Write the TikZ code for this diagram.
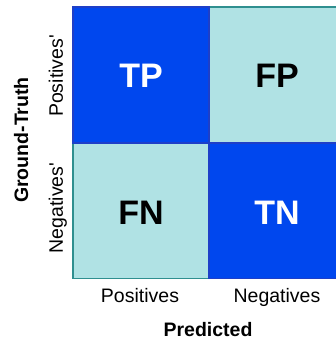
\documentclass[tikz,border=0pt]{standalone}
\usepackage{fontspec}
\setmainfont{Liberation Sans}
\usepackage{tikz}
\definecolor{cellblue}{HTML}{0047EE}
\definecolor{celllight}{HTML}{B0E2E4}
\definecolor{edgeteal}{HTML}{2F8F8F}
\definecolor{edgeblue}{HTML}{1E3FC8}
\tikzset{
	darkcell/.style={fill=cellblue, draw=edgeblue, line width=1.4pt},
	lightcell/.style={fill=celllight, draw=edgeteal, line width=1.4pt},
	cellword/.style={font=\fontsize{34}{40}\selectfont\bfseries},
	axisword/.style={font=\fontsize{19.5}{23}\selectfont, anchor=base},
	axistitle/.style={font=\fontsize{19.5}{23}\selectfont\bfseries, anchor=base}
}

\begin{document}
\begin{tikzpicture}[x=1pt, y=1pt]
			%%%%% START %%%%%
			\useasboundingbox (0, 0) rectangle (336, 341);
			\clip (0, 0) rectangle (336, 341);
			
			\draw[lightcell] (73, 62.5) rectangle (209, 198);
			\draw[lightcell] (209, 198) rectangle (345, 334);
			\draw[darkcell] (73, 198) rectangle (209, 334);
			\draw[darkcell] (209, 62.5) rectangle (345, 198);
			
			\node[cellword, text=white] (tp) at (141, 265.5) {TP};
			\node[cellword, text=black] (fp) at (277, 265.5) {FP};
			\node[cellword, text=black] (fn) at (141, 128.5) {FN};
			\node[cellword, text=white] (tn) at (277, 128.5) {TN};
			
			\node[axisword] (predpos) at (140, 38) {Positives};
			\node[axisword] (predneg) at (277, 38) {Negatives};
			\node[axistitle] (predicted) at (208, 5) {Predicted};
			
			\node[axisword, rotate=90] (gtpos) at (63, 265) {Positives\textquotesingle};
			\node[axisword, rotate=90] (gtneg) at (63, 133) {Negatives\textquotesingle};
			\node[axistitle, rotate=90] (groundtruth) at (28, 201) {Ground-Truth};
			
			%%%%% END %%%%%
		\end{tikzpicture}
\end{document}
